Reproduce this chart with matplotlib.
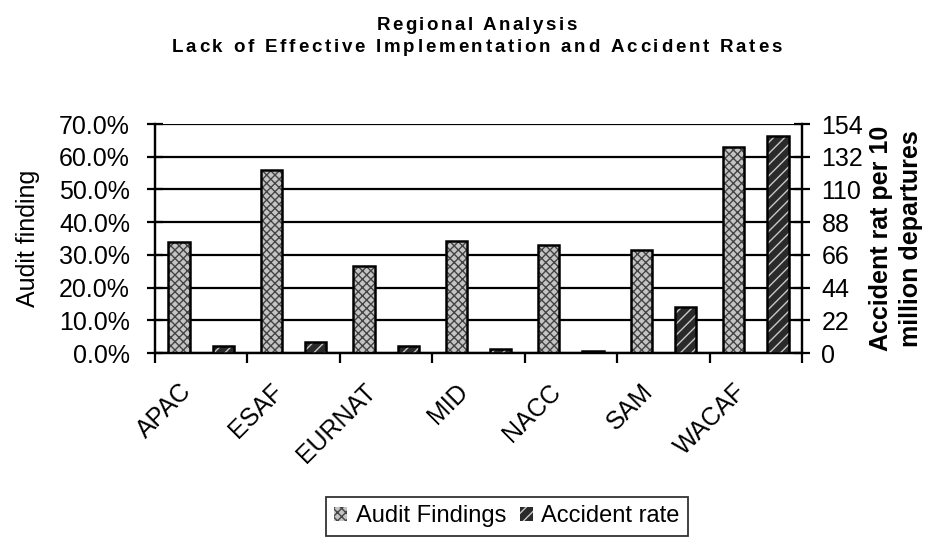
import matplotlib.pyplot as plt
import numpy as np
from matplotlib.patches import Patch
from matplotlib.ticker import PercentFormatter
from matplotlib.font_manager import FontProperties
from matplotlib.transforms import ScaledTranslation

regions = ["APAC", "ESAF", "EURNAT", "MID", "NACC", "SAM", "WACAF"]
audit_findings = [34.0, 55.9, 26.5, 34.2, 33.0, 31.6, 62.9]
accident_rate = [5.0, 7.5, 4.5, 3.0, 1.5, 31.0, 146.0]

title_lines = ["Regional Analysis", "Lack of Effective Implementation and Accident Rates"]


def spaced_title(fig, text, y_px, width_px, size):
    # letter-spaced bold line, centred on the figure
    r = fig.canvas.get_renderer()
    prop = FontProperties(family="Liberation Sans", weight="bold", size=size)

    def tw(s):
        return r.get_text_width_height_descent(s, prop, ismath=False)[0]

    base = tw("HH")
    adv = [tw("H" + c + "H") - base for c in text]
    gap = (width_px - sum(adv)) / (len(text) - 1)
    W, H = fig.get_size_inches() * fig.dpi
    x = W / 2 - width_px / 2
    for c, a in zip(text, adv):
        if c != " ":
            fig.text(x / W, 1 - y_px / H, c, fontproperties=prop, va="center", ha="left")
        x += a + gap


def main():
    plt.rcParams["font.family"] = ["Liberation Sans", "DejaVu Sans"]
    fig = plt.figure(figsize=(9.53, 5.5), dpi=100)
    ax = fig.add_axes([0.1626, 0.358, 0.679, 0.4165])
    ax2 = ax.twinx()

    x = np.arange(len(regions))
    w = 0.23

    # audit findings: grey checker pattern
    ax.bar(x - 0.24, audit_findings, w, color="#c4c4c4", edgecolor="#444444",
           hatch="xxxx", linewidth=0, zorder=3)
    ax.bar(x - 0.24, audit_findings, w, fill=False, edgecolor="black",
           linewidth=1.8, zorder=4)

    # accident rate: dark with light diagonal stripes
    ax2.bar(x + 0.24, accident_rate, w, color="#2a2a2a", edgecolor="#c8c8c8",
            hatch="///", linewidth=0, zorder=3)
    ax2.bar(x + 0.24, accident_rate, w, fill=False, edgecolor="black",
            linewidth=1.8, zorder=4)

    ax.set_xlim(-0.5, len(regions) - 0.5)
    ax.set_ylim(0, 70)
    ax2.set_ylim(0, 154)
    ax.set_yticks(np.arange(0, 71, 10))
    ax2.set_yticks(np.arange(0, 155, 22))
    ax.yaxis.set_major_formatter(PercentFormatter(decimals=1))
    ax.grid(axis="y", color="black", linewidth=1.6, zorder=0)
    ax.set_axisbelow(True)

    ax.set_xticks(x)
    ax.set_xticklabels(regions, rotation=45, ha="right", va="center",
                       rotation_mode="anchor", fontsize=18)
    ax.tick_params(axis="x", length=0, pad=25)
    shift = ScaledTranslation(-14 / 100, 0, fig.dpi_scale_trans)
    for lbl in ax.get_xticklabels():
        lbl.set_transform(lbl.get_transform() + shift)
    ax.set_xticks(np.arange(-0.5, len(regions)), minor=True)
    ax.tick_params(axis="x", which="minor", length=7, width=1.6, direction="out")

    ax.tick_params(axis="y", labelsize=18, direction="inout", length=12, width=1.6, pad=12)
    ax2.tick_params(axis="y", labelsize=18, direction="inout", length=12, width=1.6, pad=8)

    for a in (ax, ax2):
        a.spines["top"].set_visible(False)
        for s in ("left", "right", "bottom"):
            a.spines[s].set_linewidth(1.6)

    ax.set_ylabel("Audit finding", fontsize=18, labelpad=14)
    ax2.set_ylabel("Accident rat per 10\nmillion departures", fontsize=18,
                   fontweight="bold", labelpad=4, linespacing=1.35)

    spaced_title(fig, title_lines[0], 25, 200, 13.5)
    spaced_title(fig, title_lines[1], 47, 610, 13.5)

    handles = [Patch(facecolor="#c4c4c4", edgecolor="#444444", hatch="xxxx", linewidth=0),
               Patch(facecolor="#2a2a2a", edgecolor="#c8c8c8", hatch="///", linewidth=0)]
    leg = fig.legend(handles, ["Audit Findings", "Accident rate"], loc="upper right",
                     bbox_to_anchor=(688 / 953, 1 - 497 / 550), ncol=2, fontsize=17,
                     frameon=True, fancybox=False, handlelength=0.55, handleheight=0.55,
                     handletextpad=0.35, columnspacing=0.6, borderpad=0.35,
                     borderaxespad=0)
    leg.get_frame().set_edgecolor("black")
    leg.get_frame().set_linewidth(1.3)

    fig.savefig("out.png", dpi=100)


if __name__ == "__main__":
    main()
